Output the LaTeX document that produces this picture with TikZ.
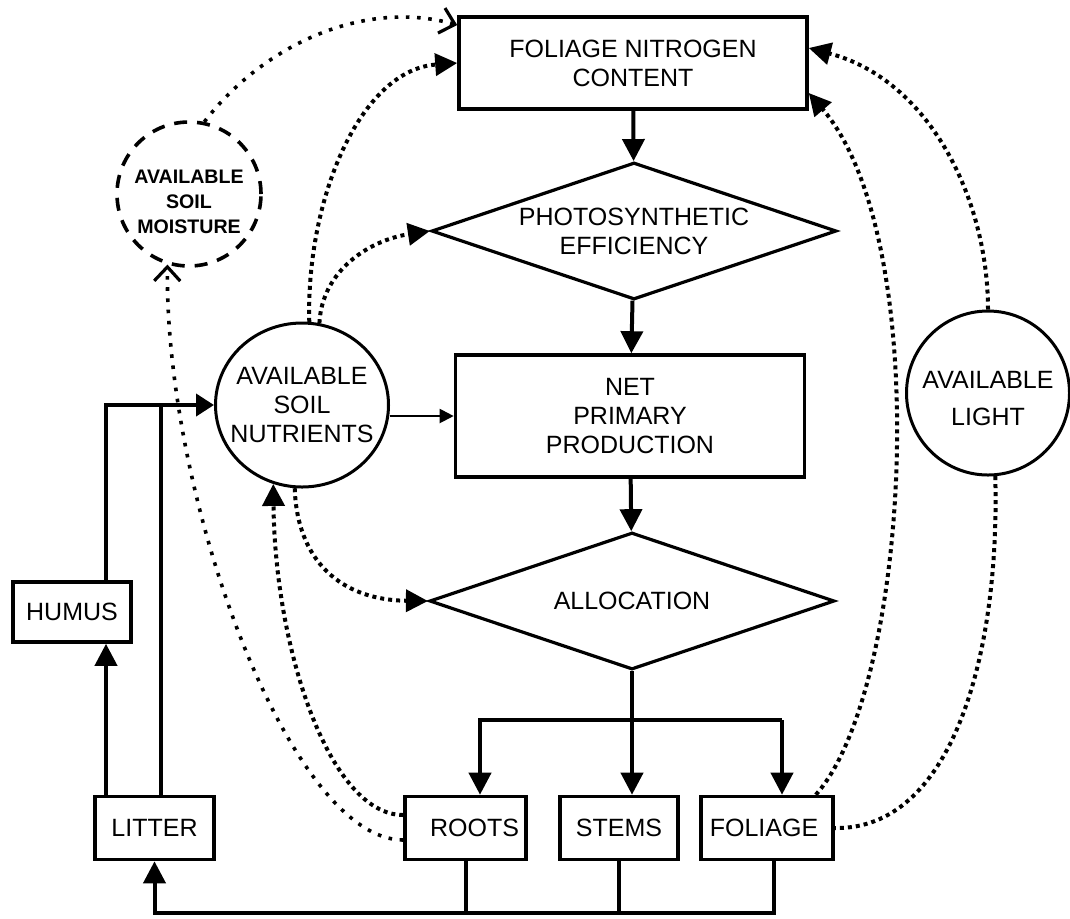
\documentclass[tikz,border=0pt]{standalone}
\usepackage{fontspec}
\newfontfamily\diagfont{Liberation Sans}
\usetikzlibrary{shapes.geometric,arrows.meta}
\tikzset{
  txt/.style={font=\diagfont\fontsize{12.5pt}{14.5pt}\selectfont, align=center},
  moisttxt/.style={txt, font=\diagfont\bfseries\fontsize{9.8pt}{12.5pt}\selectfont},
  box/.style={txt, draw, line width=1.8pt, inner sep=0pt},
  decision/.style={txt, draw, diamond, aspect=2.96, inner sep=0pt, line width=1.6pt,
    minimum width=202.5pt, minimum height=68.5pt},
  pool/.style={draw, ellipse, line width=1.5pt, inner sep=0pt},
  flow/.style={line width=2pt, -{Triangle[length=11pt,width=11pt]}},
  link/.style={line width=2pt, dash pattern=on 2pt off 2pt, -{Triangle[length=11pt,width=11pt]}},
  faint/.style={line width=1.8pt, dash pattern=on 1.8pt off 3.8pt,
    -{Straight Barb[length=7pt,width=13pt,line width=1.6pt]}},
}
\begin{document}
\begin{tikzpicture}[x=0.5pt,y=-0.5pt]
  \useasboundingbox (0,0) rectangle (1070,918);
  % main column
  \node[box, minimum width=174pt, minimum height=46pt] (fnc) at (633,63) {FOLIAGE NITROGEN\\CONTENT};
  \node[decision] (photo) at (634,231) {PHOTOSYNTHETIC\\EFFICIENCY};
  \node[box, minimum width=174.5pt, minimum height=61pt] (npp) at (630,416) {NET\\PRIMARY\\PRODUCTION};
  \node[decision] (alloc) at (632,601) {ALLOCATION};
  % pools
  \node[pool, minimum width=86.5pt, minimum height=82pt,
    label={[txt]center:AVAILABLE\\SOIL\\NUTRIENTS}] (nutr) at (302,405) {};
  \node[pool, minimum width=81.5pt, minimum height=82pt,
    label={[txt, font=\diagfont\fontsize{12.5pt}{18.5pt}\selectfont, yshift=-3pt]center:AVAILABLE\\LIGHT}] (light) at (988,393) {};
  \node[pool, line width=1.8pt, dash pattern=on 6.5pt off 5pt, minimum width=72pt, minimum height=72pt,
    label={[moisttxt, yshift=-4pt]center:AVAILABLE\\SOIL\\MOISTURE}] (moist) at (189,194) {};
  % tissues and litter
  \node[box, minimum width=59pt, minimum height=30pt] (humus) at (72,612) {HUMUS};
  \node[box, minimum width=59.5pt, minimum height=31.5pt] (litter) at (154.5,828) {LITTER};
  \node[box, minimum width=60.5pt, minimum height=31.5pt] (roots) at (465.5,828) {\hspace{9pt}ROOTS};
  \node[box, minimum width=59pt, minimum height=31.5pt] (stems) at (619,828) {STEMS};
  \node[box, minimum width=66pt, minimum height=31.5pt] (foliage) at (767,828) {FOLIAGE\hspace{3pt}};
  % solid flows
  \draw[flow] (fnc) -- (photo);
  \draw[flow] (photo) -- (npp);
  \draw[flow] (npp) -- (alloc);
  \draw[line width=1pt, -{Triangle[length=7pt,width=7pt]}] (nutr.east |- npp.west) -- (npp.west);
  \coordinate (sl) at (480,720);
  \coordinate (sr) at (782,720);
  \draw[flow] (alloc.south) -- (alloc.south |- stems.north);
  \draw[flow] (sr) -- (sl) -- (sl |- roots.north);
  \draw[flow] (sr) -- (sr |- foliage.north);
  \coordinate (hb) at (106,405);
  \coordinate (lb) at (161,405);
  \coordinate (base) at (0,913);
  \coordinate (fs) at ([xshift=3.5pt]foliage.south);
  \draw[flow] (litter.north -| hb) -- (humus.south -| hb);
  \draw[line width=2pt, -{Triangle[length=9pt,width=11pt]}] (humus.north -| hb) -- (hb) -- (nutr.west);
  \draw[line width=2pt] (litter.north -| lb) -- (lb);
  \draw[flow] (fs) -- (fs |- base) -| (litter.south);
  \draw[line width=2pt] (stems.south) -- (stems.south |- base);
  \draw[line width=2pt] (roots.south) -- (roots.south |- base);
  % dotted influences
  \draw[faint] (moist.78) .. controls (264,44) and (365,-1) .. ([yshift=19pt]fnc.west);
  \draw[link] (nutr.85) .. controls (306,200) and (360,70) .. (fnc.west);
  \draw[link] (nutr.78) .. controls (322,270) and (370,240) .. (photo.west);
  \draw[link] (nutr.265) .. controls (297,560) and (340,600) .. (alloc.west);
  \draw[link] ([yshift=6.5pt]roots.west) .. controls (330,815) and (275,650) .. (nutr.250);
  \draw[faint] ([yshift=-6pt]roots.west) .. controls (290,840) and (165,500) .. (moist.253);
  \draw[link] ([xshift=-9.5pt]foliage.north east) .. controls (910,690) and (935,240) .. ([yshift=-15pt]fnc.east);
  \draw[link] (light.north) .. controls (988,200) and (930,80) .. ([yshift=7.5pt]fnc.east);
  \draw[link, -] (light.275) .. controls (1000,660) and (950,830) .. (foliage.east);
\end{tikzpicture}
\end{document}
